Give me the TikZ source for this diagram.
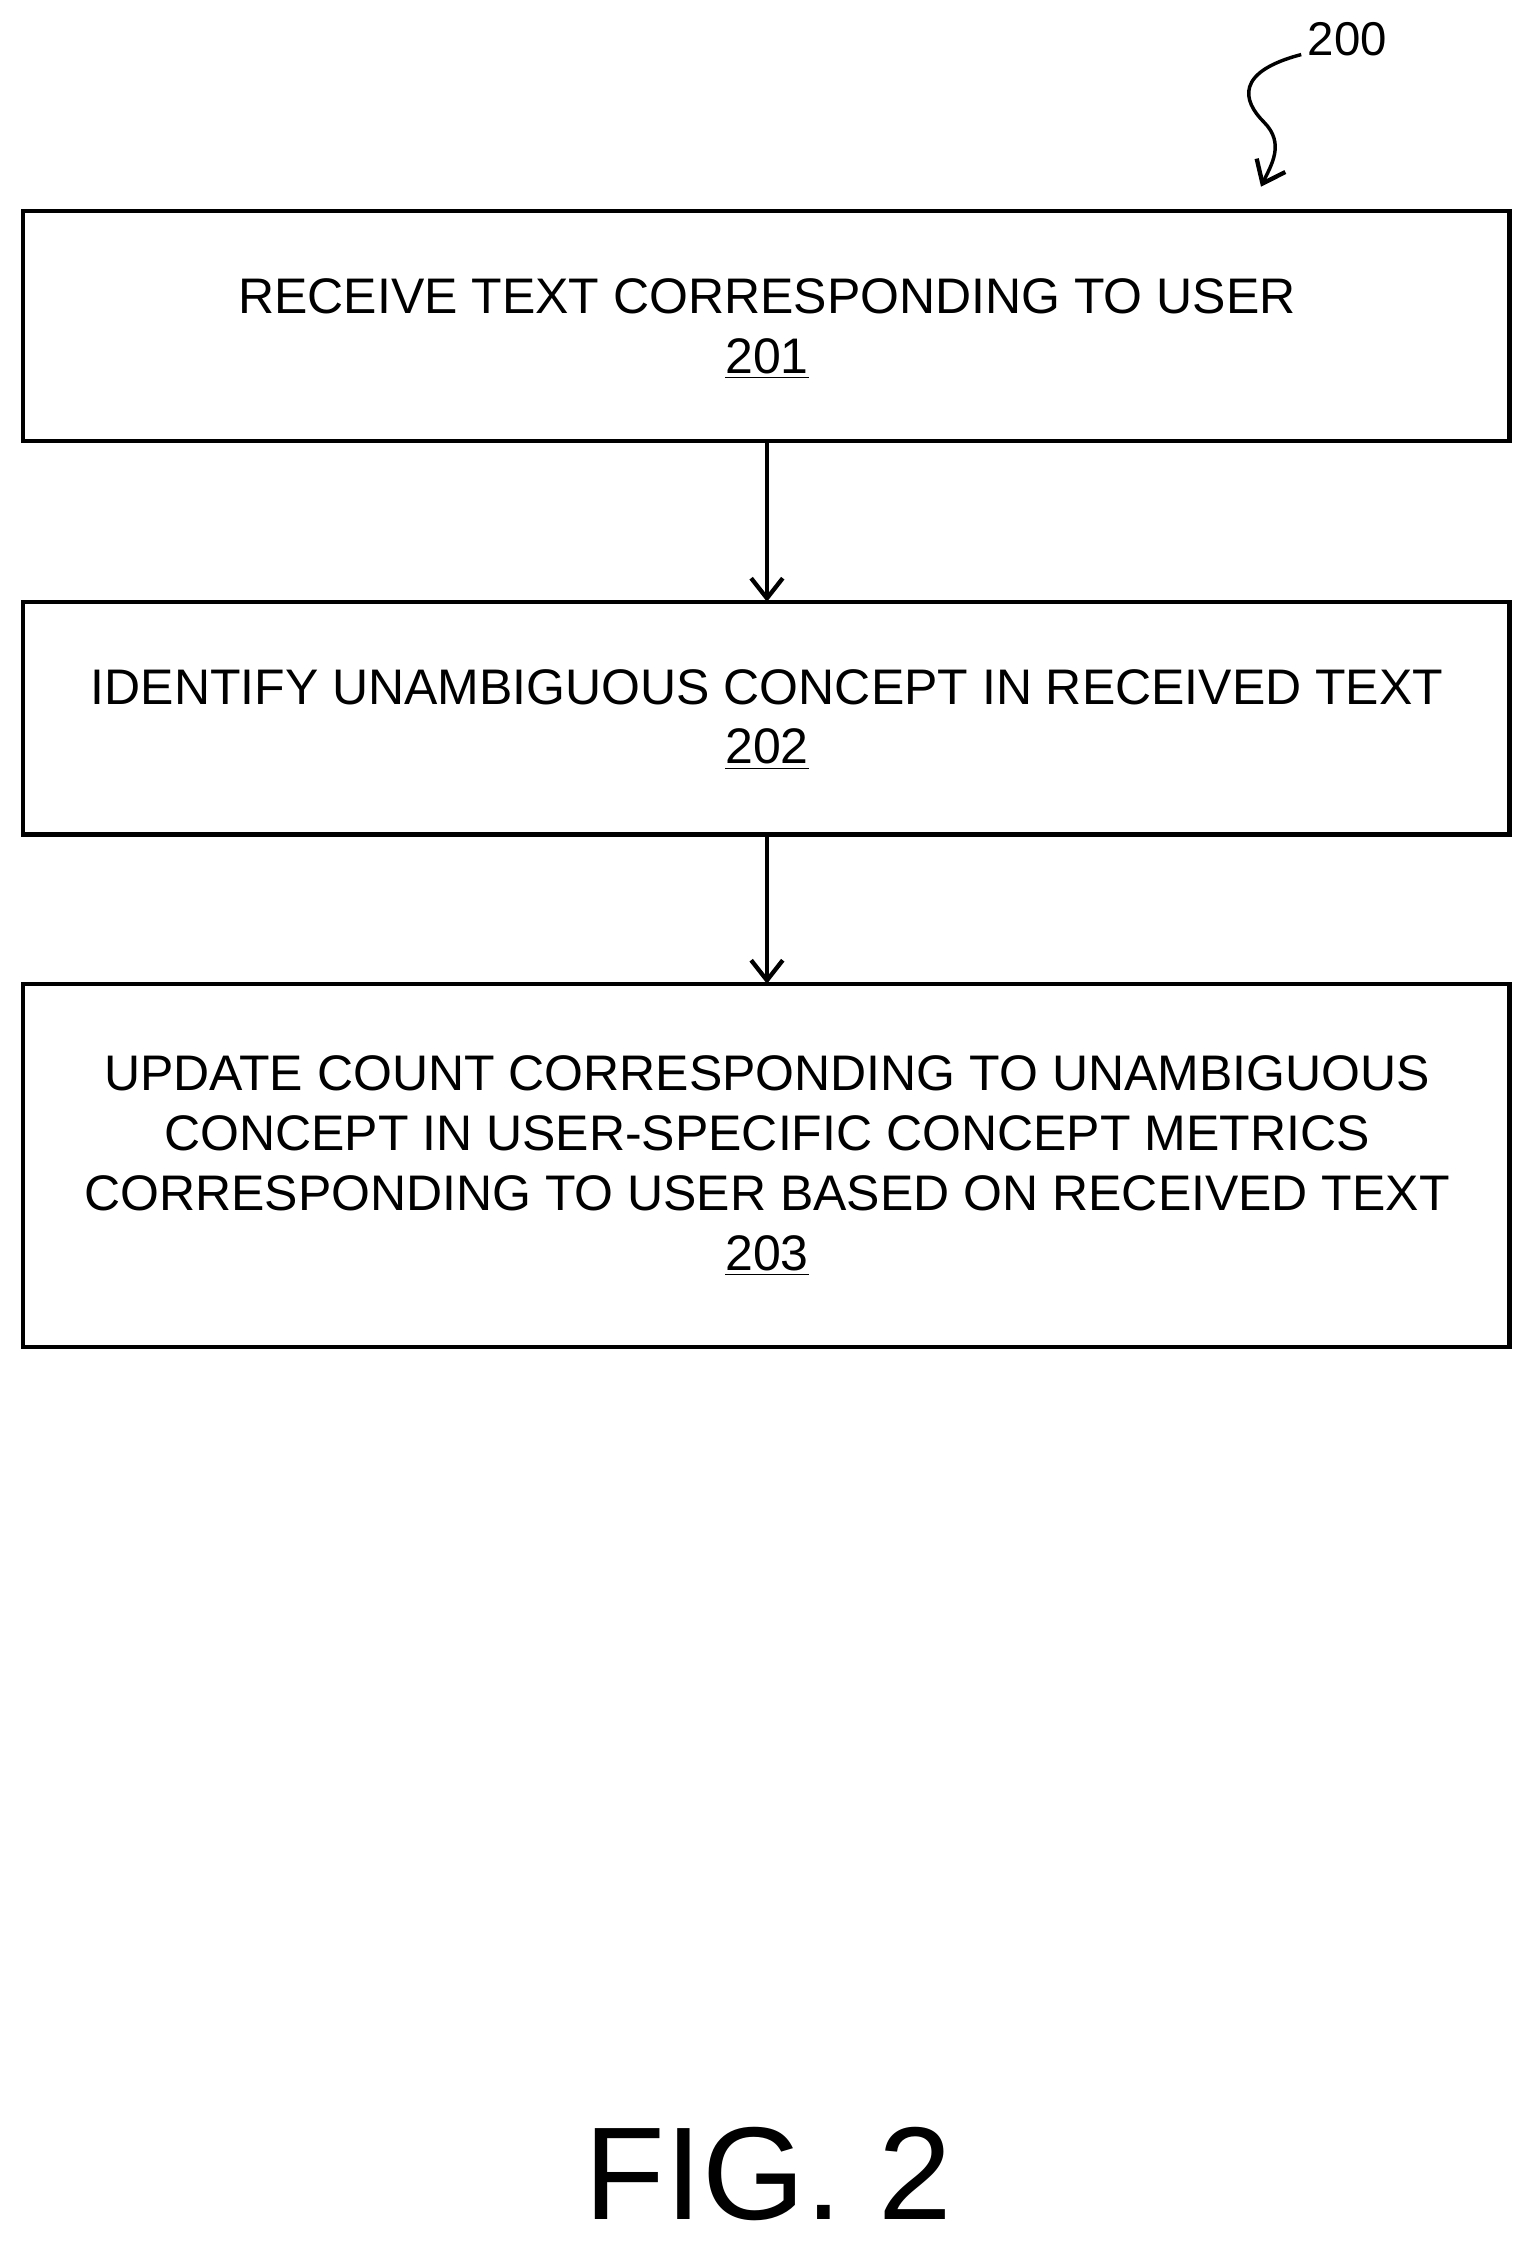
\documentclass[tikz,border=0pt]{standalone}
\usepackage{fontspec}
\setmainfont{Liberation Sans}
\usetikzlibrary{arrows.meta}
\begin{document}
\begin{tikzpicture}[x=0.5pt,y=-0.5pt,
  stepbox/.style={draw,line width=1.5pt},
  lbl/.style={font=\fontsize{17.4}{20.8}\selectfont,align=center,inner sep=0},
  arr/.style={-{Straight Barb[length=7pt,width=11pt,line width=1.5pt]},line width=1.5pt}]
\useasboundingbox (0,0) rectangle (1067,1568);
\draw[stepbox] (16,147) rectangle (1051,307);
\draw[stepbox] (16,419) rectangle (1051,581);
\draw[stepbox] (16,685) rectangle (1051,938);
\node[lbl] (t1) at (534,229) {RECEIVE TEXT CORRESPONDING TO USER\\\underline{201}};
\node[lbl] (t2) at (534,501) {IDENTIFY UNAMBIGUOUS CONCEPT IN RECEIVED TEXT\\\underline{202}};
\node[lbl] (t3) at (534,812) {UPDATE COUNT CORRESPONDING TO UNAMBIGUOUS\\CONCEPT IN USER-SPECIFIC CONCEPT METRICS\\CORRESPONDING TO USER BASED ON RECEIVED TEXT\\\underline{203}};
\coordinate (b1) at (534,307); \coordinate (c2) at (534,419);
\coordinate (b2) at (534,581); \coordinate (c3) at (534,685);
\draw[arr] (b1) -- (c2);
\draw[arr] (b2) -- (c3);
\node[font=\fontsize{16.5}{20}\selectfont,inner sep=0] (n200) at (938,27) {200};
\coordinate (s) at (906,38); \coordinate (e) at (878,130);
\draw[arr,line width=1.2pt] (s) .. controls (860,50) and (865,70) .. (880,85) .. controls (895,100) and (885,115) .. (e);
\node[font=\fontsize{46}{50}\selectfont,inner sep=0] (fig) at (535,1514) {FIG. 2};
\end{tikzpicture}
\end{document}
